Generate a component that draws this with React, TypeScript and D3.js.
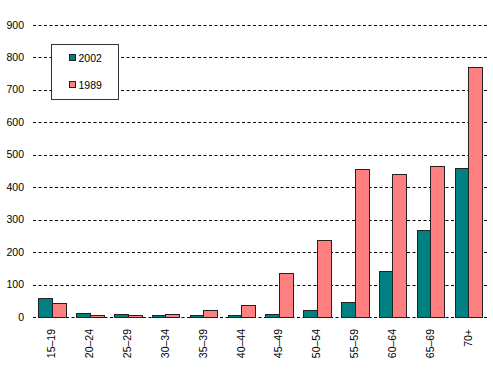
import React from "react";
import * as d3 from "d3";

const categories = ["15–19", "20–24", "25–29", "30–34", "35–39", "40–44", "45–49", "50–54", "55–59", "60–64", "65–69", "70+"];
const series2002 = [58, 14, 11, 8, 8, 8, 11, 21, 48, 144, 270, 461];
const series1989 = [45, 8, 8, 11, 21, 39, 135, 237, 458, 440, 467, 770];
const yTicks = [0, 100, 200, 300, 400, 500, 600, 700, 800, 900];
const seriesNames = ["2002", "1989"];
const colors = ["#008080", "#FF8080"];

export default function App() {
  const W = 493, H = 382;
  const left = 33, right = 487, top = 25, bottom = 317.3;
  const x = d3.scaleBand<string>().domain(categories).range([left, right]).paddingInner(0.286).paddingOuter(0.143);
  const xs = d3.scaleBand<string>().domain(seriesNames).range([0, x.bandwidth()]);
  const y = d3.scaleLinear().domain([0, 900]).range([bottom, top]);
  const data = [series2002, series1989];
  const font = "'Liberation Sans', Arial, sans-serif";
  return (
    <svg width={W} height={H} style={{ position: "absolute", left: 0, top: 0, background: "#fff" }}>
      {yTicks.map((t) => (
        <g key={t}>
          <line x1={left} x2={right} y1={Math.round(y(t)) + 0.5} y2={Math.round(y(t)) + 0.5} stroke="#000" strokeDasharray="3,2.5" />
          <text x={24} y={y(t) + 3.5} textAnchor="end" fontFamily={font} fontSize={10.5} fill="#000">{t}</text>
        </g>
      ))}
      {data.map((s, si) =>
        s.map((v, i) => {
          const bx = (x(categories[i]) as number) + (xs(seriesNames[si]) as number);
          return (
            <rect key={si + "-" + i} x={Math.round(bx) + 0.5} y={Math.round(y(v)) + 0.5} width={Math.round(xs.bandwidth())}
              height={Math.max(0, Math.round(bottom) - Math.round(y(v)))} fill={colors[si]} stroke="#222" strokeWidth={1} />
          );
        })
      )}
      {categories.map((c) => {
        const cx = (x(c) as number) + x.bandwidth() / 2;
        return (
          <text key={c} transform={`translate(${cx + 3.5},329) rotate(-90)`} textAnchor="end" fontFamily={font} fontSize={10.5} fill="#000">{c}</text>
        );
      })}
      <rect x={51.5} y={44.5} width={67} height={55} fill="#fff" stroke="#333" />
      {seriesNames.map((n, i) => (
        <g key={n}>
          <rect x={69.5} y={54.5 + i * 27} width={6} height={6} fill={colors[i]} stroke="#222" />
          <text x={78.5} y={61.5 + i * 27} fontFamily={font} fontSize={10.5} fill="#000">{n}</text>
        </g>
      ))}
    </svg>
  );
}
